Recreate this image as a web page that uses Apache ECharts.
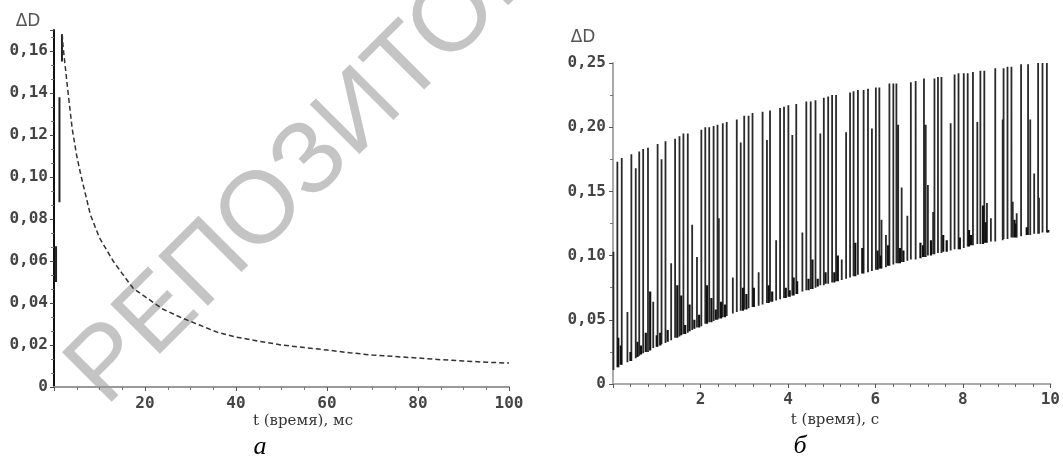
<!DOCTYPE html>
<html>
<head>
<meta charset="utf-8">
<script src="https://cdn.jsdelivr.net/npm/echarts@6/dist/echarts.min.js"></script>
<style>
  html, body { margin: 0; padding: 0; background: #fff; }
  #chart { width: 1063px; height: 459px; }
</style>
</head>
<body>
<div id="chart"></div>
<script>
// ---- график а: ΔD(t), t в мс ----
// начальный участок (вертикальные всплески у оси)
const burstT = [0.45, 1.2, 1.75];
const burstLow = [0.050, 0.088, 0.155];
const burstHigh = [0.067, 0.138, 0.168];
// спад
const decayT = [1.8, 2.0, 2.3, 3, 4, 5, 6, 7, 8, 10, 13, 15, 17.4, 20, 24, 28, 32, 36, 40, 45, 50, 55, 60, 65, 70, 75, 80, 85, 90, 95, 100];
const decayD = [0.168, 0.162, 0.156, 0.142, 0.123, 0.110, 0.100, 0.091, 0.082, 0.071, 0.060, 0.054, 0.047, 0.043, 0.037, 0.033, 0.0295, 0.026, 0.0238, 0.0218, 0.020, 0.0188, 0.0176, 0.0163, 0.0152, 0.0145, 0.0138, 0.013, 0.0124, 0.0118, 0.0114];

// ---- график б: ΔD(t), t в с ----
// крупные всплески
const spikeT = [0.01, 0.10, 0.20, 0.33, 0.42, 0.52, 0.60, 0.69, 0.80, 0.92, 1.02, 1.11, 1.20, 1.33, 1.42, 1.52, 1.61, 1.71, 1.81, 1.92,
  2.02, 2.11, 2.20, 2.30, 2.39, 2.42, 2.51, 2.60, 2.74, 2.83, 2.92, 3.00, 3.10, 3.19, 3.33, 3.42, 3.52, 3.59, 3.73, 3.82,
  3.91, 4.01, 4.10, 4.19, 4.33, 4.42, 4.52, 4.63, 4.74, 4.82, 4.92, 5.01, 5.10, 5.23, 5.33, 5.42, 5.50, 5.60, 5.73, 5.83,
  5.92, 6.01, 6.09, 6.14, 6.24, 6.32, 6.41, 6.48, 6.52, 6.60, 6.73, 6.81, 6.92, 7.11, 7.15, 7.20, 7.32, 7.35, 7.43, 7.51,
  7.72, 7.81, 7.90, 8.02, 8.11, 8.23, 8.33, 8.40, 8.49, 8.55, 8.64, 8.74, 8.91, 8.93, 9.02, 9.11, 9.14, 9.23, 9.33, 9.49,
  9.54, 9.63, 9.72, 9.74, 9.82, 9.92];
const spikeTop = [0.103, 0.173, 0.176, 0.056, 0.179, 0.168, 0.181, 0.183, 0.184, 0.064, 0.187, 0.175, 0.189, 0.094, 0.191, 0.193, 0.195, 0.195, 0.124, 0.099,
  0.198, 0.200, 0.200, 0.201, 0.202, 0.129, 0.203, 0.204, 0.083, 0.206, 0.188, 0.209, 0.209, 0.211, 0.087, 0.212, 0.190, 0.213, 0.112, 0.215,
  0.216, 0.217, 0.194, 0.218, 0.118, 0.220, 0.220, 0.221, 0.195, 0.223, 0.224, 0.225, 0.225, 0.097, 0.196, 0.227, 0.228, 0.229, 0.229, 0.230,
  0.199, 0.231, 0.231, 0.128, 0.116, 0.234, 0.234, 0.234, 0.202, 0.153, 0.131, 0.235, 0.236, 0.238, 0.202, 0.155, 0.134, 0.238, 0.239, 0.239,
  0.203, 0.241, 0.242, 0.242, 0.242, 0.243, 0.204, 0.244, 0.244, 0.141, 0.129, 0.246, 0.206, 0.246, 0.247, 0.247, 0.142, 0.133, 0.249, 0.249,
  0.206, 0.164, 0.250, 0.145, 0.250, 0.250];
const spikeLow = [0.011, 0.013, 0.015, 0.017, 0.018, 0.020, 0.022, 0.024, 0.025, 0.028, 0.029, 0.031, 0.032, 0.034, 0.036, 0.037, 0.039, 0.040, 0.042, 0.044,
  0.045, 0.047, 0.048, 0.049, 0.050, 0.051, 0.052, 0.053, 0.055, 0.056, 0.057, 0.058, 0.059, 0.060, 0.061, 0.062, 0.063, 0.064, 0.065, 0.066,
  0.067, 0.068, 0.069, 0.070, 0.072, 0.073, 0.074, 0.075, 0.077, 0.077, 0.078, 0.079, 0.080, 0.081, 0.082, 0.083, 0.084, 0.085, 0.086, 0.087,
  0.088, 0.089, 0.090, 0.090, 0.091, 0.092, 0.093, 0.094, 0.094, 0.095, 0.096, 0.097, 0.097, 0.099, 0.099, 0.100, 0.101, 0.101, 0.102, 0.102,
  0.104, 0.105, 0.105, 0.106, 0.107, 0.108, 0.109, 0.109, 0.110, 0.110, 0.111, 0.111, 0.112, 0.113, 0.113, 0.114, 0.114, 0.114, 0.115, 0.116,
  0.116, 0.117, 0.117, 0.117, 0.118, 0.118];
// мелкие всплески у нижней огибающей
const minorT = [0.12, 0.18, 0.40, 0.56, 0.64, 0.75, 0.85, 1.00, 1.08, 1.25, 1.47, 1.56, 1.65, 1.75, 1.86, 1.97, 2.15, 2.25, 2.35, 2.47,
  2.56, 2.97, 3.05, 3.22, 3.56, 3.64, 3.95, 4.04, 4.13, 4.21, 4.47, 4.56, 4.68, 4.86, 5.06, 5.14, 5.54, 5.70, 6.05, 6.12,
  6.29, 6.56, 6.64, 7.03, 7.09, 7.27, 7.55, 7.63, 7.93, 8.14, 8.19, 8.46, 8.52, 9.18, 9.20, 9.46, 9.95];
const minorTop = [0.036, 0.030, 0.025, 0.033, 0.030, 0.040, 0.072, 0.038, 0.040, 0.042, 0.077, 0.069, 0.046, 0.062, 0.050, 0.054, 0.077, 0.067, 0.058, 0.064,
  0.062, 0.075, 0.070, 0.075, 0.077, 0.072, 0.075, 0.073, 0.083, 0.080, 0.082, 0.097, 0.082, 0.087, 0.087, 0.100, 0.110, 0.106, 0.104, 0.100,
  0.108, 0.106, 0.104, 0.110, 0.108, 0.112, 0.116, 0.112, 0.114, 0.120, 0.116, 0.139, 0.126, 0.128, 0.125, 0.122, 0.120];
const minorLow = [0.013, 0.015, 0.018, 0.021, 0.023, 0.025, 0.026, 0.029, 0.030, 0.033, 0.036, 0.038, 0.039, 0.041, 0.043, 0.044, 0.047, 0.048, 0.050, 0.051,
  0.052, 0.057, 0.058, 0.060, 0.063, 0.064, 0.067, 0.068, 0.069, 0.070, 0.073, 0.074, 0.076, 0.078, 0.079, 0.080, 0.084, 0.086, 0.089, 0.090,
  0.092, 0.094, 0.095, 0.098, 0.099, 0.100, 0.103, 0.103, 0.105, 0.107, 0.108, 0.109, 0.110, 0.114, 0.114, 0.116, 0.118];

const xTicksA = [20, 40, 60, 80, 100];
const xTicksB = [2, 4, 6, 8, 10];

// подписи с запятой вместо точки
function comma(v) {
  if (v === 0) return '0';
  return v.toFixed(2).replace('.', ',');
}

const chart = echarts.init(document.getElementById('chart'));

// всплески в начале графика а
const burstData = [];
burstT.forEach((t, i) => {
  burstData.push([t, burstLow[i]], [t, burstHigh[i]], [t, '-']);
});
const decayData = decayT.map((t, i) => [t, decayD[i]]);

// сигнал б: каждый всплеск — отдельная вертикальная черта
const spikeData = [];
spikeT.forEach((t, i) => {
  spikeData.push([t, spikeLow[i]], [t, spikeTop[i]], [t, '-']);
});
const minorData = [];
minorT.forEach((t, i) => {
  minorData.push([t, minorLow[i]], [t, minorTop[i]], [t, '-']);
});

const labelFont = { fontFamily: 'DejaVu Sans Mono', fontWeight: 'bold', fontSize: 16, color: '#444' };

const option = {
  animation: false,
  backgroundColor: '#fff',
  grid: [
    { left: 54, top: 30, width: 455, height: 357 },
    { left: 613, top: 63, width: 440, height: 321 }
  ],
  xAxis: [
    {
      gridIndex: 0, type: 'value', min: 0, max: 100, interval: 20,
      axisLine: { lineStyle: { color: '#999', width: 2 } },
      axisTick: { inside: false, length: 4, lineStyle: { color: '#555' } },
      minorTick: { show: true, splitNumber: 4, length: 3, lineStyle: { color: '#777' } },
      splitLine: { show: false },
      axisLabel: Object.assign({ margin: 9, showMinLabel: false,
        formatter: v => xTicksA.indexOf(v) >= 0 ? String(v) : '' }, labelFont)
    },
    {
      gridIndex: 1, type: 'value', min: 0, max: 10, interval: 2,
      axisLine: { lineStyle: { color: '#aaa', width: 2 } },
      axisTick: { length: 4, lineStyle: { color: '#555' } },
      minorTick: { show: true, splitNumber: 5, length: 3, lineStyle: { color: '#666' } },
      splitLine: { show: false },
      axisLabel: Object.assign({ margin: 8, showMinLabel: false,
        formatter: v => xTicksB.indexOf(v) >= 0 ? String(v) : '' }, labelFont)
    }
  ],
  yAxis: [
    {
      gridIndex: 0, type: 'value', min: 0, max: 0.17, interval: 0.02,
      axisLine: { show: true, lineStyle: { color: '#111', width: 2 } },
      axisTick: { show: true, length: 4, lineStyle: { color: '#444' } },
      minorTick: { show: true, splitNumber: 3, length: 3, lineStyle: { color: '#777' } },
      splitLine: { show: false },
      axisLabel: Object.assign({ margin: 6, showMaxLabel: false, formatter: comma }, labelFont)
    },
    {
      gridIndex: 1, type: 'value', min: 0, max: 0.25, interval: 0.05,
      axisLine: { show: true, lineStyle: { color: '#aaa', width: 2 } },
      axisTick: { show: true, length: 4, lineStyle: { color: '#555' } },
      minorTick: { show: true, splitNumber: 2, length: 3, lineStyle: { color: '#777' } },
      splitLine: { show: false },
      axisLabel: Object.assign({ margin: 7, formatter: comma }, labelFont)
    }
  ],
  graphic: [
    {
      type: 'text', x: 122, y: 424, rotation: 45 * Math.PI / 180, z: -10,
      style: { text: 'РЕПОЗИТОРИЙ', font: '102px "Liberation Sans"', fill: '#c4c4c4',
        textAlign: 'left', textVerticalAlign: 'bottom' }
    },
    { type: 'text', x: 28, y: 22, style: { text: 'ΔD', font: '17px "DejaVu Sans"', fill: '#555', textAlign: 'center', textVerticalAlign: 'middle' } },
    { type: 'text', x: 583, y: 38, style: { text: 'ΔD', font: '17px "DejaVu Sans"', fill: '#555', textAlign: 'center', textVerticalAlign: 'middle' } },
    { type: 'text', x: 303, y: 421, style: { text: 't (время), мс', font: '15px "DejaVu Serif"', fill: '#333', textAlign: 'center', textVerticalAlign: 'middle' } },
    { type: 'text', x: 835, y: 420, style: { text: 't (время), с', font: '15px "DejaVu Serif"', fill: '#333', textAlign: 'center', textVerticalAlign: 'middle' } },
    { type: 'text', x: 260, y: 447, style: { text: 'а', font: 'italic 26px "Liberation Serif"', fill: '#000', textAlign: 'center', textVerticalAlign: 'middle' } },
    { type: 'text', x: 800, y: 446, style: { text: 'б', font: 'italic 26px "Liberation Serif"', fill: '#000', textAlign: 'center', textVerticalAlign: 'middle' } }
  ],
  series: [
    {
      type: 'line', xAxisIndex: 0, yAxisIndex: 0, data: burstData,
      symbol: 'none', connectNulls: false,
      lineStyle: { color: '#222', width: 2 }
    },
    {
      type: 'line', xAxisIndex: 0, yAxisIndex: 0, data: decayData,
      symbol: 'none',
      lineStyle: { color: '#333', width: 1.5, type: [5, 3] }
    },
    {
      type: 'line', xAxisIndex: 1, yAxisIndex: 1, data: spikeData,
      symbol: 'none', sampling: null, connectNulls: false,
      lineStyle: { color: '#2a2a2a', width: 1.8 }
    },
    {
      type: 'line', xAxisIndex: 1, yAxisIndex: 1, data: minorData,
      symbol: 'none', sampling: null, connectNulls: false,
      lineStyle: { color: '#111', width: 2.2 }
    }
  ]
};

chart.setOption(option);
</script>
</body>
</html>
